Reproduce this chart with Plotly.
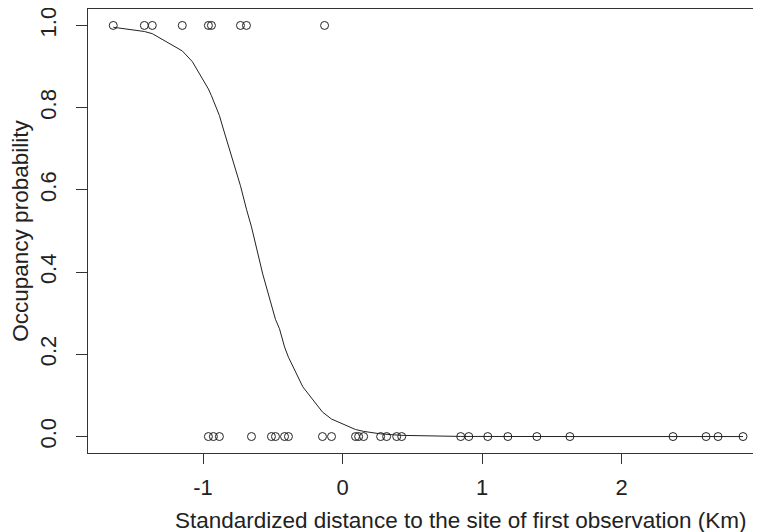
import plotly.graph_objects as go

# Observed sites: standardized distance and occupancy (1 = occupied, 0 = not)
obs_x = [-1.644, -1.421, -1.364, -1.149, -0.962, -0.940, -0.732, -0.689, -0.129,
         -0.962, -0.926, -0.883, -0.653, -0.510, -0.481, -0.416, -0.388, -0.144,
         -0.079, 0.093, 0.115, 0.151, 0.273, 0.316, 0.388, 0.424, 0.847, 0.905,
         1.041, 1.185, 1.393, 1.630, 2.369, 2.606, 2.692, 2.871]
obs_y = [1, 1, 1, 1, 1, 1, 1, 1, 1,
         0, 0, 0, 0, 0, 0, 0, 0, 0,
         0, 0, 0, 0, 0, 0, 0, 0, 0, 0,
         0, 0, 0, 0, 0, 0, 0, 0]

# Fitted occupancy probability
fit_x = [-1.644, -1.421, -1.364, -1.149, -1.077, -0.962, -0.940, -0.926, -0.883,
         -0.859, -0.732, -0.689, -0.653, -0.572, -0.510, -0.481, -0.452, -0.416,
         -0.388, -0.285, -0.144, -0.129, -0.093, -0.079, 0.093, 0.115, 0.151,
         0.273, 0.316, 0.388, 0.424, 0.847, 0.905, 1.041, 1.185, 1.393, 1.630,
         2.369, 2.606, 2.692, 2.871]
fit_y = [0.9956, 0.9853, 0.980, 0.938, 0.912, 0.8455, 0.829, 0.818, 0.781,
         0.753, 0.610, 0.553, 0.510, 0.395, 0.318, 0.285, 0.262, 0.218,
         0.193, 0.121, 0.0596, 0.0552, 0.047, 0.0426, 0.0171, 0.0152, 0.0126,
         0.0065, 0.0051, 0.0035, 0.0029, 0.0003, 0.0002, 0.0001, 0.0, 0.0, 0.0,
         0.0, 0.0, 0.0, 0.0]

x_ticks = [-1, 0, 1, 2, 3]
y_ticks = [0.0, 0.2, 0.4, 0.6, 0.8, 1.0]
x_title = "Standardized distance to the site of first observation (Km)"
y_title = "Occupancy probability"

fig = go.Figure()
fig.add_trace(go.Scatter(x=fit_x, y=fit_y, mode="lines",
                         line=dict(color="#222222", width=1), hoverinfo="skip"))
fig.add_trace(go.Scatter(x=obs_x, y=obs_y, mode="markers",
                         marker=dict(symbol="circle-open", size=8,
                                     line=dict(color="#222222", width=1), color="#222222")))

font = dict(family="Liberation Sans, Arial, sans-serif", color="#222222")
fig.update_layout(
    width=761, height=532,
    margin=dict(l=80, r=1, t=1, b=87, autoexpand=False),
    paper_bgcolor="white", plot_bgcolor="white",
    showlegend=False,
    font=dict(**font, size=22),
    xaxis=dict(range=[-1.825, 3.05], tickvals=x_ticks, ticktext=[str(v) for v in x_ticks],
               showgrid=False, zeroline=False, showline=True, mirror=True,
               linecolor="#333333", linewidth=1, ticks="outside", ticklen=10,
               tickcolor="#333333", ticklabelstandoff=5, ticklabeloverflow="allow",
               automargin=False),
    yaxis=dict(range=[-0.04, 1.04], tickvals=y_ticks,
               ticktext=[f"{v:.1f}" for v in y_ticks], tickangle=-90,
               showgrid=False, zeroline=False, showline=True, mirror=False,
               linecolor="#333333", linewidth=1, ticks="outside", ticklen=11,
               tickcolor="#333333", ticklabelstandoff=11, ticklabeloverflow="allow",
               automargin=False,
               title=dict(text=y_title, font=dict(size=22.5), standoff=12)),
    annotations=[dict(text=x_title, xref="paper", yref="paper", x=0.548, y=-0.151,
                      xanchor="center", yanchor="middle", showarrow=False,
                      font=dict(size=22.5))],
)
fig.write_html("out.html")
